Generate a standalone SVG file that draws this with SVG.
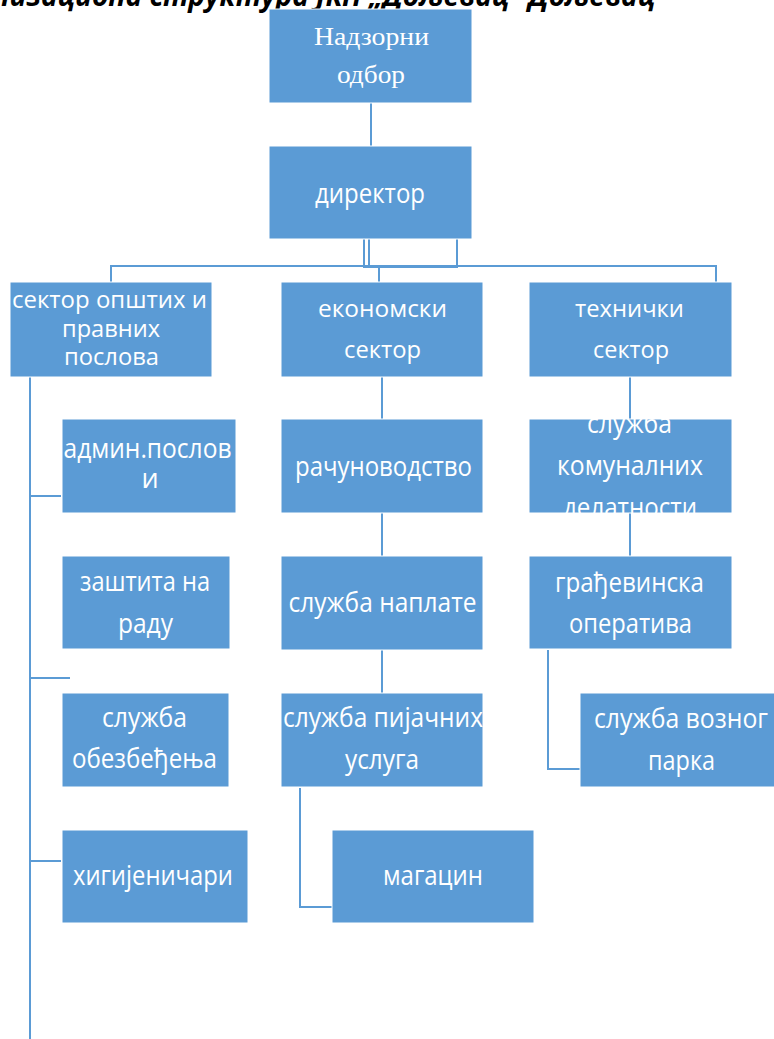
<svg xmlns="http://www.w3.org/2000/svg" width="774" height="1039" viewBox="0 0 774 1039">
<style>
.box{fill:#5B9BD5;stroke:#ffffff;stroke-width:1}
.t{font-family:"Open Sans","DejaVu Sans",sans-serif;font-size:27px;fill:#ffffff;text-anchor:middle}
.s{font-size:24px}
.serif{font-family:"Liberation Serif","Times New Roman",serif;font-size:25px;fill:#ffffff;text-anchor:middle}
.c{fill:none;stroke:#5B9BD5;stroke-width:2}
.title{font-family:"Open Sans","DejaVu Sans",sans-serif;font-size:28px;font-weight:700;font-style:italic;fill:#000000;text-anchor:end}
</style>
<defs>
<clipPath id="clipKom"><rect x="529" y="419" width="203" height="94"/></clipPath>
</defs>
<rect width="774" height="1039" fill="#ffffff"/>
<text class="title" x="655" y="6">Организациона структура ЈКП „Дољевац“ Дољевац</text>
<g id="connectors">
<path class="c" d="M371 103V146"/>
<path class="c" d="M364 239V267H457V239"/>
<path class="c" d="M369 239V265"/>
<path class="c" d="M111 282V266H716V282"/>
<path class="c" d="M379 266V282"/>
<path class="c" d="M30 377V1039"/>
<path class="c" d="M30 496H61"/>
<path class="c" d="M30 678H70"/>
<path class="c" d="M30 861H61"/>
<path class="c" d="M382 377V419"/>
<path class="c" d="M382 513V556"/>
<path class="c" d="M382 650V693"/>
<path class="c" d="M300 788V907H332"/>
<path class="c" d="M630 377V419"/>
<path class="c" d="M630 513V556"/>
<path class="c" d="M548 650V769H580"/>
</g>
<g id="nadzorni">
<rect class="box" x="269" y="9" width="203" height="94"/>
<text class="serif" x="371.5" y="45" textLength="115" lengthAdjust="spacingAndGlyphs">Надзорни</text>
<text class="serif" x="371" y="83" textLength="68" lengthAdjust="spacingAndGlyphs">одбор</text>
</g>
<g id="direktor">
<rect class="box" x="269" y="146" width="203" height="93"/>
<text class="t" x="370" y="203" textLength="110" lengthAdjust="spacingAndGlyphs">директор</text>
</g>
<g id="sektor-opstih">
<rect class="box" x="10" y="282" width="202" height="95"/>
<text class="t s" x="109.5" y="308" textLength="195" lengthAdjust="spacingAndGlyphs">сектор општих и</text>
<text class="t s" x="111" y="337" textLength="98" lengthAdjust="spacingAndGlyphs">правних</text>
<text class="t s" x="111.5" y="365" textLength="95" lengthAdjust="spacingAndGlyphs">послова</text>
</g>
<g id="ekonomski">
<rect class="box" x="281" y="282" width="202" height="95"/>
<text class="t s" x="382.5" y="317" textLength="129" lengthAdjust="spacingAndGlyphs">економски</text>
<text class="t s" x="382.5" y="358" textLength="77" lengthAdjust="spacingAndGlyphs">сектор</text>
</g>
<g id="tehnicki">
<rect class="box" x="529" y="282" width="203" height="95"/>
<text class="t s" x="629.5" y="317" textLength="109" lengthAdjust="spacingAndGlyphs">технички</text>
<text class="t s" x="631" y="358" textLength="76" lengthAdjust="spacingAndGlyphs">сектор</text>
</g>
<g id="admin">
<rect class="box" x="62" y="419" width="174" height="94"/>
<text class="t" x="147.5" y="458" textLength="168" lengthAdjust="spacingAndGlyphs">админ.послов</text>
<text class="t" x="150" y="488">и</text>
</g>
<g id="zastita">
<rect class="box" x="62" y="556" width="168" height="93"/>
<text class="t" x="145" y="591" textLength="130" lengthAdjust="spacingAndGlyphs">заштита на</text>
<text class="t" x="145.5" y="633" textLength="55" lengthAdjust="spacingAndGlyphs">раду</text>
</g>
<g id="obezbedjenje">
<rect class="box" x="62" y="693" width="167" height="94"/>
<text class="t" x="144.5" y="727" textLength="85" lengthAdjust="spacingAndGlyphs">служба</text>
<text class="t" x="144.5" y="768" textLength="145" lengthAdjust="spacingAndGlyphs">обезбеђења</text>
</g>
<g id="higijenicari">
<rect class="box" x="62" y="830" width="186" height="93"/>
<text class="t" x="153" y="885" textLength="160" lengthAdjust="spacingAndGlyphs">хигијеничари</text>
</g>
<g id="racunovodstvo">
<rect class="box" x="281" y="419" width="202" height="94"/>
<text class="t" x="383.5" y="476" textLength="177" lengthAdjust="spacingAndGlyphs">рачуноводство</text>
</g>
<g id="naplata">
<rect class="box" x="281" y="556" width="202" height="94"/>
<text class="t" x="382.5" y="612" textLength="188" lengthAdjust="spacingAndGlyphs">служба наплате</text>
</g>
<g id="pijacne">
<rect class="box" x="281" y="693" width="202" height="94"/>
<text class="t" x="383" y="727" textLength="200" lengthAdjust="spacingAndGlyphs">служба пијачних</text>
<text class="t" x="382" y="769" textLength="74" lengthAdjust="spacingAndGlyphs">услуга</text>
</g>
<g id="magacin">
<rect class="box" x="332" y="830" width="202" height="93"/>
<text class="t" x="433" y="885" textLength="100" lengthAdjust="spacingAndGlyphs">магацин</text>
</g>
<g id="komunalne">
<rect class="box" x="529" y="419" width="203" height="94"/>
<g clip-path="url(#clipKom)">
<text class="t" x="629.5" y="433" textLength="85" lengthAdjust="spacingAndGlyphs">служба</text>
<text class="t" x="630" y="475" textLength="146" lengthAdjust="spacingAndGlyphs">комуналних</text>
<text class="t" x="630" y="517" textLength="134" lengthAdjust="spacingAndGlyphs">делатности</text>
</g>
</g>
<g id="gradjevinska">
<rect class="box" x="529" y="556" width="203" height="93"/>
<text class="t" x="629.5" y="592" textLength="149" lengthAdjust="spacingAndGlyphs">грађевинска</text>
<text class="t" x="630.5" y="633" textLength="123" lengthAdjust="spacingAndGlyphs">оператива</text>
</g>
<g id="vozni-park">
<rect class="box" x="580" y="693" width="202" height="94"/>
<text class="t" x="681" y="728" textLength="174" lengthAdjust="spacingAndGlyphs">служба возног</text>
<text class="t" x="681.5" y="770" textLength="67" lengthAdjust="spacingAndGlyphs">парка</text>
</g>
</svg>
